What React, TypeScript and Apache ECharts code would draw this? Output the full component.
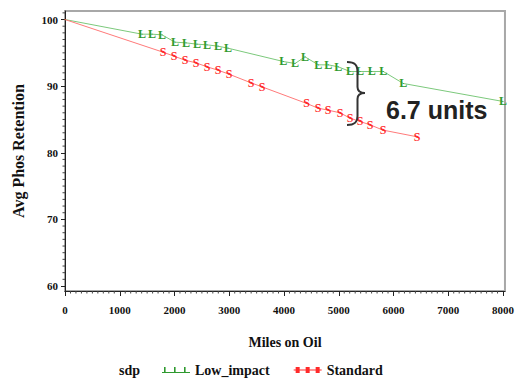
import React, { useEffect, useRef } from "react";
import * as echarts from "echarts";

// Low_impact series (miles on oil, avg phos retention)
const lowMiles = [0, 1406, 1589, 1772, 2009, 2210, 2411, 2594, 2795, 2977, 3987, 4201, 4384, 4626, 4809, 4992, 5205, 5388, 5602, 5814, 6179, 8000];
const lowRetention = [100, 97.8, 97.8, 97.7, 96.6, 96.5, 96.3, 96.2, 96.0, 95.7, 93.7, 93.4, 94.4, 93.2, 93.2, 92.9, 92.2, 92.2, 92.2, 92.2, 90.4, 87.7];

// Standard series
const stdMiles = [0, 1790, 1991, 2192, 2393, 2594, 2795, 2995, 3397, 3598, 4414, 4621, 4804, 5023, 5205, 5388, 5571, 5808, 6429];
const stdRetention = [100, 95.1, 94.5, 93.9, 93.5, 92.9, 92.4, 91.8, 90.5, 89.9, 87.4, 86.7, 86.4, 86.0, 85.2, 84.7, 84.2, 83.4, 82.4];

const xTicks = [0, 1000, 2000, 3000, 4000, 5000, 6000, 7000, 8000];
const yTicks = [60, 70, 80, 90, 100];
const seriesNames = ["Low_impact", "Standard"];
const markerLetters = ["L", "S"];
const legendTitle = "sdp";
const annotationText = "6.7 units";

const X_MIN = 0;
const X_MAX = 8036;
const Y_MIN = 59.25;
const Y_MAX = 101.28;

const SERIF = "'Liberation Serif', 'Times New Roman', serif";
const SANS = "'Liberation Sans', Arial, sans-serif";

export default function App() {
  const ref = useRef<HTMLDivElement>(null);

  useEffect(() => {
    const el = ref.current;
    if (!el) return;

    const braceD =
      "M347,62 C355,62 357.5,65 357.5,72 L357.5,87 C357.5,91 360,93 365,93 C360,93 357.5,95 357.5,99 L357.5,116 C357.5,122 355,125 347,125";
    const Brace = echarts.graphic.extendPath(braceD, {});
    echarts.graphic.registerShape("brace", Brace);

    const chart = echarts.init(el, null, { renderer: "svg" });

    const xMinor: number[][] = [];
    for (let v = 100; v <= 8000; v += 100) if (v % 1000 !== 0) xMinor.push([v]);
    const yMinor: number[][] = [];
    for (let v = 60; v <= 101; v += 1) if (v % 10 !== 0) yMinor.push([v]);

    const lowData = lowMiles.map((m, i) => [m, lowRetention[i]]);
    const stdData = stdMiles.map((m, i) => [m, stdRetention[i]]);

    const labelFont = { fontFamily: SERIF, fontWeight: "bold" as const, fontSize: 11, color: "#111" };

    chart.setOption({
      animation: false,
      backgroundColor: "#ffffff",
      grid: {
        left: 65,
        top: 11,
        width: 440,
        height: 280,
        show: true,
        borderColor: "#a8a8a8",
        borderWidth: 2,
        backgroundColor: "#ffffff",
      },
      xAxis: {
        type: "value",
        min: X_MIN,
        max: X_MAX,
        position: "bottom",
        axisLine: { show: true, lineStyle: { color: "#222", width: 1 } },
        axisTick: { show: true, customValues: xTicks, length: 5, lineStyle: { color: "#222" } },
        axisLabel: { show: true, customValues: xTicks, margin: 13, formatter: (v: number) => String(v), ...labelFont },
        splitLine: { show: false },
        name: "Miles on Oil",
        nameLocation: "middle",
        nameGap: 44,
        nameTextStyle: { fontFamily: SERIF, fontWeight: "bold", fontSize: 14, color: "#111" },
      },
      yAxis: {
        type: "value",
        min: Y_MIN,
        max: Y_MAX,
        position: "left",
        axisLine: { show: true, lineStyle: { color: "#222", width: 1 } },
        axisTick: { show: true, customValues: yTicks, length: 4, lineStyle: { color: "#222" } },
        axisLabel: { show: true, customValues: yTicks, margin: 7, formatter: (v: number) => String(v), ...labelFont },
        splitLine: { show: false },
        name: "Avg Phos Retention",
        nameLocation: "middle",
        nameGap: 39,
        nameRotate: 90,
        nameTextStyle: { fontFamily: SERIF, fontWeight: "bold", fontSize: 16, color: "#111" },
      },
      legend: {
        left: 162,
        top: 363,
        padding: 0,
        itemWidth: 28,
        itemHeight: 8,
        itemGap: 24,
        textStyle: { fontFamily: SERIF, fontWeight: "bold", fontSize: 14, color: "#111" },
        data: [
          {
            name: seriesNames[0],
            icon: "path://M0,6h28v1h-28z M2,1h1.6v6h-1.6z M12,1h1.6v6h-1.6z M22,1h1.6v6h-1.6z",
          },
          {
            name: seriesNames[1],
            icon: "path://M0,3.5h28v1h-28z M2,1h4v6h-4z M12,1h4v6h-4z M22,1h4v6h-4z",
          },
        ],
      },
      graphic: [
        {
          type: "text",
          left: 119,
          top: 363,
          style: { text: legendTitle, font: `bold 14px ${SERIF}`, fill: "#111" },
        },
        {
          type: "brace",
          x: 0,
          y: 0,
          shape: {},
          style: { stroke: "#333", fill: "none", lineWidth: 2 },
          z: 10,
        },
        {
          type: "text",
          x: 386,
          y: 110,
          style: {
            text: annotationText,
            font: `bold 25px ${SANS}`,
            fill: "#222",
            textVerticalAlign: "middle",
          },
          z: 10,
        },
      ],
      series: [
        {
          name: "xMinorTicks",
          type: "custom",
          data: xMinor,
          clip: false,
          silent: true,
          encode: { x: 0 },
          renderItem: (params: any, api: any) => {
            const p = api.coord([api.value(0), Y_MIN]);
            return {
              type: "line",
              shape: { x1: p[0], y1: p[1], x2: p[0], y2: p[1] + 2.5 },
              style: { stroke: "#444", lineWidth: 1 },
            };
          },
          z: 1,
        },
        {
          name: "yMinorTicks",
          type: "custom",
          data: yMinor,
          clip: false,
          silent: true,
          encode: { y: 0 },
          renderItem: (params: any, api: any) => {
            const p = api.coord([X_MIN, api.value(0)]);
            return {
              type: "line",
              shape: { x1: p[0] - 2.5, y1: p[1], x2: p[0], y2: p[1] },
              style: { stroke: "#444", lineWidth: 1 },
            };
          },
          z: 1,
        },
        {
          name: seriesNames[0],
          type: "line",
          data: lowData,
          symbol: "circle",
          symbolSize: 1,
          itemStyle: { color: "#2f9a2f" },
          lineStyle: { color: "#7cc97c", width: 1 },
          label: {
            show: true,
            position: "inside",
            formatter: (p: any) => (p.dataIndex === 0 ? "" : markerLetters[0]),
            fontFamily: SERIF,
            fontWeight: "bold",
            fontSize: 12,
            color: "#2f9a2f",
          },
          labelLayout: { hideOverlap: false },
          z: 3,
        },
        {
          name: seriesNames[1],
          type: "line",
          data: stdData,
          symbol: "circle",
          symbolSize: 1,
          itemStyle: { color: "#ff2a2a" },
          lineStyle: { color: "#ff7a7a", width: 1 },
          label: {
            show: true,
            position: "inside",
            formatter: (p: any) => (p.dataIndex === 0 ? "" : markerLetters[1]),
            fontFamily: SERIF,
            fontWeight: "bold",
            fontSize: 12,
            color: "#ff2a2a",
          },
          labelLayout: { hideOverlap: false },
          z: 3,
        },
      ],
    });

    return () => {
      chart.dispose();
    };
  }, []);

  return <div ref={ref} style={{ width: 517, height: 379, position: "absolute", left: 0, top: 0 }} />;
}
